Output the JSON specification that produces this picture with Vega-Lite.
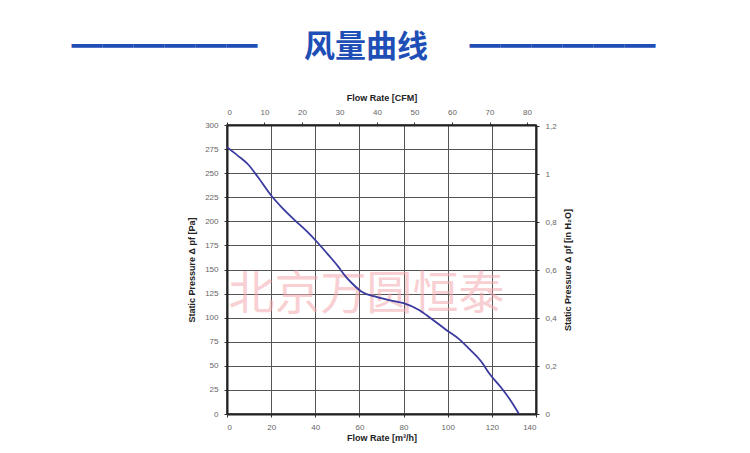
{
  "$schema": "https://vega.github.io/schema/vega-lite/v6.json",
  "width": 309,
  "height": 289,
  "autosize": {"type": "none"},
  "padding": {"left": 227, "top": 125, "right": 214, "bottom": 39},
  "background": "white",
  "title": {
    "text": "━━━━━━\u3000\u2002风量曲线\u3000\u2004━━━━━━",
    "font": "Noto Sans CJK SC",
    "fontSize": 31,
    "fontWeight": "bold",
    "color": "#1f4fb6",
    "anchor": "middle",
    "frame": "group",
    "dx": -18,
    "offset": 29
  },
  "datasets": {
    "curve": [
      {"flow": 0, "pressure": 277},
      {"flow": 5, "pressure": 268},
      {"flow": 9.6, "pressure": 259},
      {"flow": 14, "pressure": 246},
      {"flow": 20.3, "pressure": 226},
      {"flow": 25, "pressure": 214},
      {"flow": 30.8, "pressure": 201},
      {"flow": 36, "pressure": 190},
      {"flow": 41.4, "pressure": 177},
      {"flow": 46, "pressure": 165},
      {"flow": 50.4, "pressure": 153},
      {"flow": 54, "pressure": 142},
      {"flow": 56.5, "pressure": 136},
      {"flow": 61, "pressure": 127},
      {"flow": 67, "pressure": 122},
      {"flow": 74, "pressure": 118},
      {"flow": 80, "pressure": 115},
      {"flow": 87, "pressure": 108},
      {"flow": 92, "pressure": 100},
      {"flow": 99.5, "pressure": 87},
      {"flow": 105, "pressure": 78},
      {"flow": 110, "pressure": 67},
      {"flow": 115, "pressure": 55},
      {"flow": 119.2, "pressure": 41},
      {"flow": 124, "pressure": 28},
      {"flow": 128.5, "pressure": 14},
      {"flow": 132.3, "pressure": 0}
    ],
    "watermark": [
      {"label": "北京万圆恒泰", "flow": 63.2, "pressure": 124}
    ]
  },
  "config": {
    "view": {"stroke": "#333", "strokeWidth": 1.5},
    "axis": {
      "labelFont": "Liberation Sans",
      "labelFontSize": 8,
      "labelColor": "#666",
      "labelOverlap": false,
      "titleFont": "Liberation Sans",
      "titleFontSize": 9,
      "titleFontWeight": "bold",
      "titleColor": "#222",
      "domainColor": "#222",
      "domainWidth": 2,
      "tickColor": "#333",
      "tickSize": 3,
      "gridColor": "#555",
      "gridWidth": 1,
      "gridOpacity": 1
    }
  },
  "layer": [
    {
      "encoding": {
        "x": {
          "field": "flow",
          "type": "quantitative",
          "scale": {"domain": [0, 140], "nice": false, "zero": true},
          "axis": {
            "orient": "bottom",
            "title": "Flow Rate [m³/h]",
            "values": [0, 20, 40, 60, 80, 100, 120, 140],
            "grid": true,
            "labelPadding": 6,
            "titlePadding": 2
          }
        },
        "y": {
          "field": "pressure",
          "type": "quantitative",
          "scale": {"domain": [0, 300], "nice": false},
          "axis": {
            "orient": "left",
            "title": "Static Pressure Δ pf [Pa]",
            "values": [0, 25, 50, 75, 100, 125, 150, 175, 200, 225, 250, 275, 300],
            "grid": true,
            "labelPadding": 6,
            "titlePadding": 8
          }
        }
      },
      "layer": [
        {
          "data": {"name": "watermark"},
          "mark": {
            "type": "text",
            "font": "Noto Sans CJK SC",
            "fontSize": 46,
            "color": "#f3a9ae",
            "opacity": 0.55
          },
          "encoding": {
            "text": {"field": "label"}
          }
        },
        {
          "data": {"name": "curve"},
          "mark": {"type": "line", "color": "#3a3a9e", "strokeWidth": 1.8, "interpolate": "monotone", "clip": true}
        }
      ]
    },
    {
      "mark": {"type": "point", "opacity": 0},
      "encoding": {
        "x": {
          "datum": 0,
          "type": "quantitative",
          "scale": {"domain": [0, 82.4], "nice": false},
          "axis": {
            "orient": "top",
            "title": "Flow Rate [CFM]",
            "values": [0, 10, 20, 30, 40, 50, 60, 70, 80],
            "grid": false,
            "labelPadding": 6,
            "titlePadding": 6
          }
        },
        "y": {
          "datum": 0,
          "type": "quantitative",
          "scale": {"domain": [0, 1.2044], "nice": false},
          "axis": {
            "orient": "right",
            "title": "Static Pressure Δ pf [in H₂O]",
            "titleAngle": 270,
            "values": [0, 0.2, 0.4, 0.6, 0.8, 1, 1.2],
            "format": "~g",
            "labelExpr": "replace(datum.label, '.', ',')",
            "grid": false,
            "labelPadding": 6,
            "titlePadding": 16
          }
        }
      }
    }
  ],
  "resolve": {"scale": {"x": "independent", "y": "independent"}}
}
